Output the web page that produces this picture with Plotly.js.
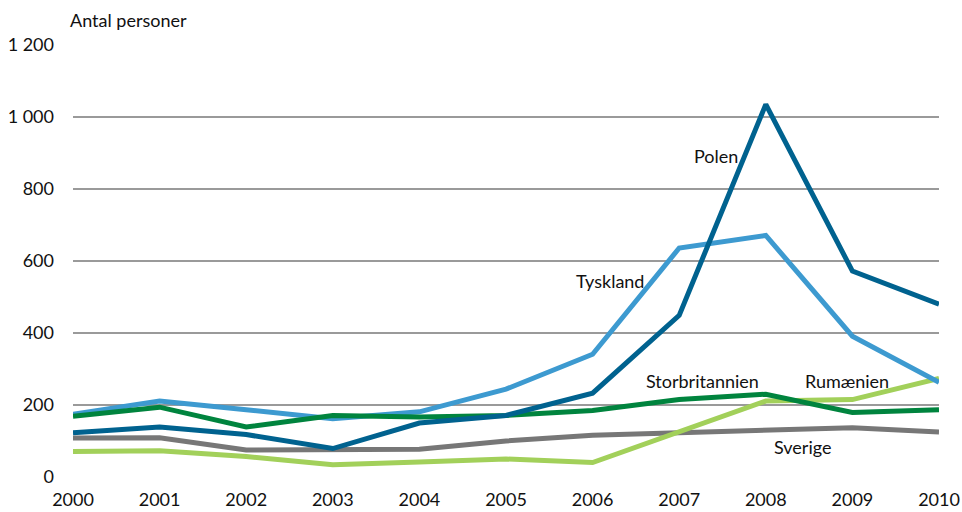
<!DOCTYPE html>
<html>
<head>
<meta charset="utf-8">
<script src="https://cdn.plot.ly/plotly-3.0.1.min.js"></script>
<style>html,body{margin:0;padding:0;background:#fff;}#chart{width:962px;height:512px;}</style>
</head>
<body>
<div id="chart"></div>
<script>
const years = [2000, 2001, 2002, 2003, 2004, 2005, 2006, 2007, 2008, 2009, 2010];
const sverige = [108, 109, 75, 75, 77, 100, 116, 123, 130, 137, 125];
const rumaenien = [71, 73, 57, 34, 42, 50, 40, 124, 211, 215, 274];
const tyskland = [174, 211, 187, 162, 181, 244, 341, 636, 671, 391, 263];
const storbritannien = [169, 194, 139, 171, 167, 171, 185, 215, 230, 179, 187];
const polen = [123, 139, 118, 79, 150, 171, 233, 449, 1035, 572, 480];
const yTicks = [0, 200, 400, 600, 800, 1000, 1200];
const yTickText = ["0", "200", "400", "600", "800", "1 000", "1 200"];

const FONT = "Lato, 'Open Sans', sans-serif";
function tr(y, color) {
  return {x: years, y: y, type: "scatter", mode: "lines",
    line: {color: color, width: 5, shape: "linear"}, hoverinfo: "skip"};
}
const data = [
  tr(sverige, "#777777"),
  tr(rumaenien, "#a2d05a"),
  tr(tyskland, "#3d9ad0"),
  tr(storbritannien, "#00843e"),
  tr(polen, "#00628f")
];
function lab(text, x, y) {
  return {text: text, x: x, y: y, xref: "x", yref: "y", showarrow: false,
    font: {family: FONT, size: 18, color: "#111"}, xanchor: "center", yanchor: "middle"};
}
const layout = {
  width: 962, height: 512,
  margin: {l: 73, r: 23, t: 45, b: 35},
  paper_bgcolor: "#fff", plot_bgcolor: "#fff",
  showlegend: false,
  font: {family: FONT, size: 18, color: "#111"},
  xaxis: {range: [2000, 2010], tickvals: years, ticktext: years.map(String),
    showgrid: false, zeroline: false, showline: false, ticks: "",
    ticklabelstandoff: 10,
    tickfont: {family: FONT, size: 18, color: "#111"}, fixedrange: true},
  yaxis: {range: [0, 1200], tickvals: yTicks, ticktext: yTickText,
    showgrid: true, gridcolor: "#9a9a9a", gridwidth: 2, zeroline: false, showline: false,
    ticks: "", ticklabelstandoff: 18,
    tickfont: {family: FONT, size: 18, color: "#111"}, fixedrange: true},
  annotations: [
    {text: "Antal personer", xref: "paper", yref: "paper", x: -0.006, y: 1.0, yshift: 25,
      xanchor: "left", yanchor: "middle", showarrow: false,
      font: {family: FONT, size: 18, color: "#111"}},
    lab("Polen", 2007.42, 891),
    lab("Tyskland", 2006.2, 544),
    lab("Storbritannien", 2007.27, 266),
    lab("Rumænien", 2008.94, 266),
    lab("Sverige", 2008.42, 82)
  ]
};
Plotly.newPlot("chart", data, layout, {displayModeBar: false, staticPlot: true});
</script>
</body>
</html>
